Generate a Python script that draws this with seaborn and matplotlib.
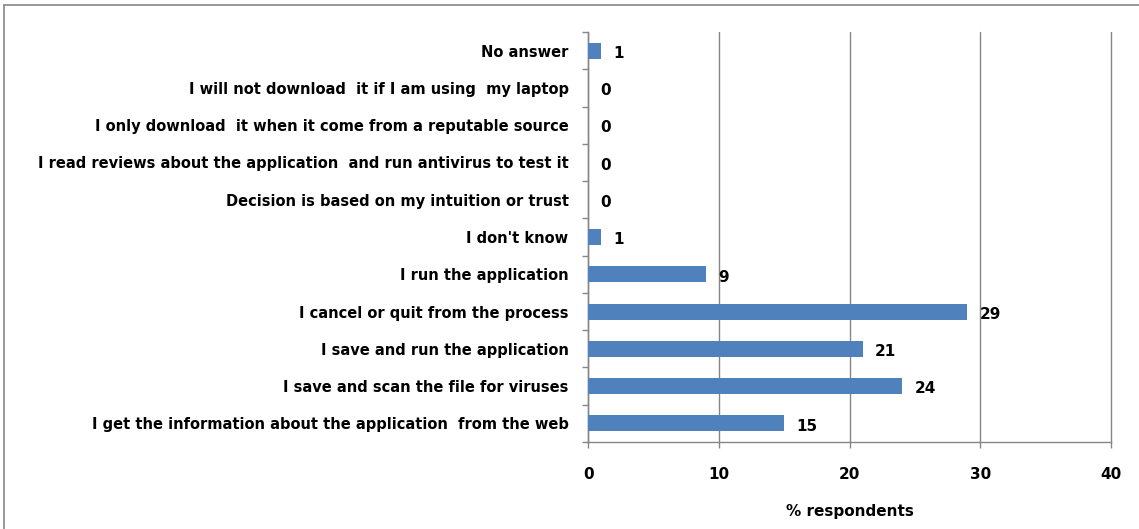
import numpy as np
import pandas as pd
import matplotlib
matplotlib.use("Agg")
import matplotlib.pyplot as plt
import seaborn as sns

# responses, top to bottom as shown in the chart
responses = [
    "No answer",
    "I will not download  it if I am using  my laptop",
    "I only download  it when it come from a reputable source",
    "I read reviews about the application  and run antivirus to test it",
    "Decision is based on my intuition or trust",
    "I don't know",
    "I run the application",
    "I cancel or quit from the process",
    "I save and run the application",
    "I save and scan the file for viruses",
    "I get the information about the application  from the web",
]
pct_respondents = [1, 0, 0, 0, 0, 1, 9, 29, 21, 24, 15]
x_ticks = [0, 10, 20, 30, 40]

df = pd.DataFrame({"response": responses, "pct": pct_respondents})

sns.set_style("white")
plt.rcParams["font.family"] = ["DejaVu Sans"]
plt.rcParams["text.color"] = "black"
plt.rcParams["xtick.color"] = "black"
plt.rcParams["ytick.color"] = "black"
plt.rcParams["axes.labelcolor"] = "black"

fig = plt.figure(figsize=(11.39, 5.29), dpi=100)
ax = fig.add_axes([0.5163, 0.1645, 0.4592, 0.775])

sns.barplot(data=df, x="pct", y="response", orient="h", color="#4F81BD",
            saturation=1, width=0.43, linewidth=0, ax=ax, zorder=3)

ax.set_xlim(0, 40)
ax.set_xticks(x_ticks)
ax.xaxis.grid(True, color="#868686", linewidth=1, zorder=0)
ax.set_axisbelow(True)
for gl in ax.get_xgridlines():
    gl.set_clip_on(False)

for s in ["top", "right"]:
    ax.spines[s].set_visible(False)
for s in ["left", "bottom"]:
    ax.spines[s].set_color("#868686")
    ax.spines[s].set_linewidth(1)

# y ticks sit on the category boundaries, labels in the middle
n = len(responses)
ax.set_yticks(np.arange(n))
ax.set_yticklabels(responses, fontsize=10.5, fontweight="bold")
ax.set_yticks(np.arange(-0.5, n, 1), minor=True)
ax.tick_params(axis="y", which="major", left=True, length=0, pad=14)
ax.tick_params(axis="y", which="minor", left=True, length=4.5, width=1,
               color="#868686", direction="out")
ax.tick_params(axis="x", bottom=True, length=4.5, width=1, color="#868686",
               labelcolor="black", direction="out", labelsize=11, pad=13.5)
for lab in ax.get_xticklabels():
    lab.set_fontweight("bold")

ax.set_ylabel("")
ax.set_xlabel("% respondents", fontsize=11, fontweight="bold", labelpad=16)

for i, v in enumerate(pct_respondents):
    ax.annotate(str(v), (v, i), xytext=(9, -2), textcoords="offset points",
                ha="left", va="center", fontsize=11, fontweight="bold")

# outer chart border (only left and top edges visible in the crop)
fig.add_artist(plt.Line2D([0.0038, 0.0038], [0.0, 0.9905], transform=fig.transFigure,
                          color="#868686", linewidth=1.2))
fig.add_artist(plt.Line2D([0.0038, 1.0], [0.9905, 0.9905], transform=fig.transFigure,
                          color="#868686", linewidth=1.2))

fig.savefig("out.png", dpi=100)
